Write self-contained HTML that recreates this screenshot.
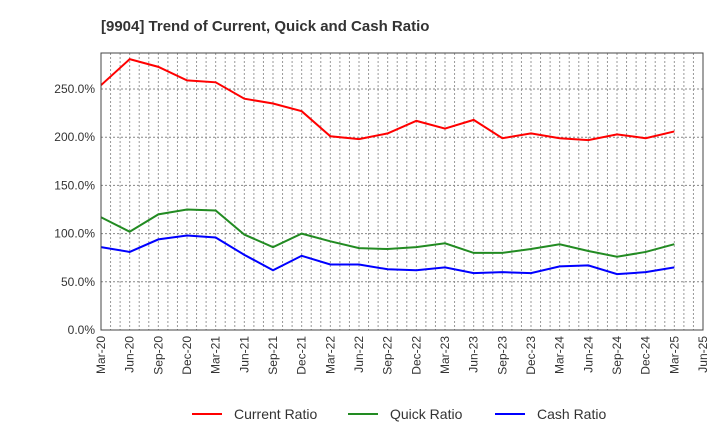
<!DOCTYPE html>
<html><head><meta charset="utf-8"><style>
body{margin:0;background:#fff;font-family:"Liberation Sans",sans-serif}
</style></head><body>
<svg width="720" height="440" xmlns="http://www.w3.org/2000/svg" font-family="Liberation Sans, sans-serif">
<text x="101" y="31" font-size="15" font-weight="bold" fill="#333">[9904]  Trend of Current, Quick and Cash Ratio</text>
<g id="grid"></g>
<g id="series"></g>
<rect x="101" y="53" width="602" height="277" fill="none" stroke="#444" stroke-width="1"/>
<g id="axes"></g>
<g id="legend"></g>
</svg>
<script>
const xLabels=["Mar-20","Jun-20","Sep-20","Dec-20","Mar-21","Jun-21","Sep-21","Dec-21","Mar-22","Jun-22","Sep-22","Dec-22","Mar-23","Jun-23","Sep-23","Dec-23","Mar-24","Jun-24","Sep-24","Dec-24","Mar-25","Jun-25"];
const yTicks=[0,50,100,150,200,250];
const currentRatio=[254,281,273,259,257,240,235,227,201,198,204,217,209,218,199,204,199,197,203,199,206];
const quickRatio=[117,102,120,125,124,99,86,100,92,85,84,86,90,80,80,84,89,82,76,81,89];
const cashRatio=[86,81,94,98,96,78,62,77,68,68,63,62,65,59,60,59,66,67,58,60,65];
const NS="http://www.w3.org/2000/svg";
const L=101,R=703,T=53,B=330,yMax=287.4;
const months=63;
function xm(m){return L+(R-L)*m/months;}
function xq(i){return xm(i*3);}
function y(v){return B-(B-T)*v/yMax;}
function mk(tag,attrs,parent){const e=document.createElementNS(NS,tag);for(const k in attrs)e.setAttribute(k,attrs[k]);parent.appendChild(e);return e;}
const grid=document.getElementById('grid'),axes=document.getElementById('axes'),series=document.getElementById('series'),legend=document.getElementById('legend');
for(let m=1;m<months;m++){
 const l=mk('line',{x1:xm(m),x2:xm(m),y1:T,y2:B,stroke:'#999','stroke-dasharray':'2,2','stroke-width':1},grid);
 
 
}
yTicks.forEach(v=>{
 if(v>0){const l=mk('line',{x1:L,x2:R,y1:y(v),y2:y(v),stroke:'#888','stroke-dasharray':'2,2','stroke-width':1},grid);
 
 }
 const t=mk('text',{x:L-6,y:y(v)+4,'text-anchor':'end','font-size':12,fill:'#333'},axes);
 t.textContent=v.toFixed(1)+'%';
 
 
});
xLabels.forEach((s,i)=>{
 const x=xq(i);
 const t=mk('text',{x:x+4,y:B+6,'text-anchor':'end','font-size':12,fill:'#333',transform:`rotate(-90 ${x+4} ${B+6})`},axes);
 t.textContent=s;
 
 
});
const defs=[[currentRatio,'#ff0000','Current Ratio','current-ratio-line'],[quickRatio,'#228b22','Quick Ratio','quick-ratio-line'],[cashRatio,'#0000ff','Cash Ratio','cash-ratio-line']];
defs.forEach(([d,c,n,id])=>{
 const p=mk('polyline',{points:d.map((v,i)=>xq(i)+','+y(v)).join(' '),fill:'none',stroke:c,'stroke-width':2},series);
 
 
});
const lx=[192,348,495];
defs.forEach(([d,c,n],i)=>{
 const g=mk('g',{},legend);
 
 
 mk('line',{x1:lx[i],x2:lx[i]+30,y1:414,y2:414,stroke:c,'stroke-width':2},g);
 const t=mk('text',{x:lx[i]+42,y:419,'font-size':14,fill:'#333'},g);
 t.textContent=n;
});
</script>
</body></html>
